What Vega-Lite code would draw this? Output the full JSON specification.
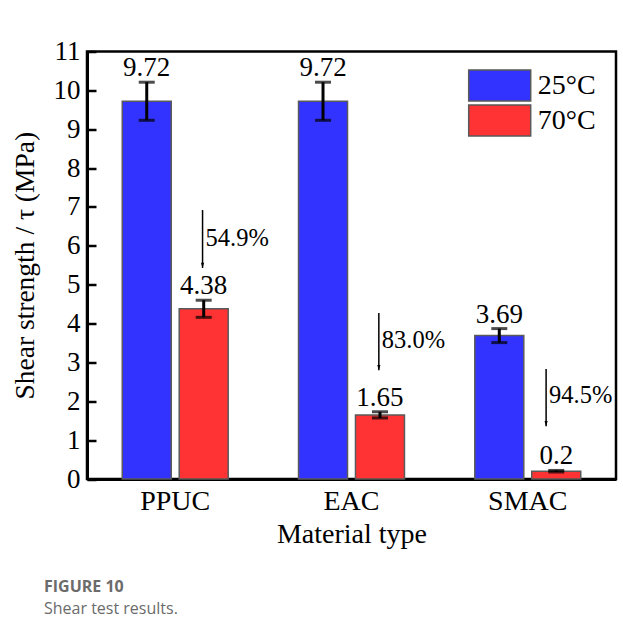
{
  "$schema": "https://vega.github.io/schema/vega-lite/v6.json",
  "autosize": {"type": "none"},
  "padding": {"left": 87, "top": 51.5, "right": 7, "bottom": 163},
  "width": 529,
  "height": 427.5,
  "background": "white",
  "config": {
    "view": {"stroke": "black", "strokeWidth": 2.5},
    "font": "Liberation Serif",
    "axisY": {
      "labelOverlap": false, "labelBound": false,
      "grid": false, "domainWidth": 3, "domainColor": "black",
      "tickColor": "black", "tickWidth": 2.5, "tickSize": -9,
      "labelFont": "Liberation Serif", "labelFontSize": 27, "labelColor": "black", "labelPadding": 16,
      "titleFont": "Liberation Serif", "titleFontSize": 27.5, "titleFontWeight": "normal", "titleColor": "black", "titlePadding": 14
    }
  },
  "title": {
    "text": "FIGURE 10",
    "subtitle": "Shear test results.",
    "orient": "bottom",
    "anchor": "start",
    "frame": "group",
    "dx": -43,
    "offset": 31,
    "font": "Open Sans",
    "fontSize": 16,
    "fontWeight": "bold",
    "color": "#6b6b6b",
    "subtitleFont": "Open Sans",
    "subtitleFontSize": 16,
    "subtitleColor": "#6b6b6b",
    "subtitlePadding": 6
  },
  "datasets": {
    "bars": [
      {"material": "PPUC", "temp": "25°C", "value": 9.72, "lo": 9.23, "hi": 10.21, "label": "9.72"},
      {"material": "PPUC", "temp": "70°C", "value": 4.38, "lo": 4.16, "hi": 4.60, "label": "4.38"},
      {"material": "EAC", "temp": "25°C", "value": 9.72, "lo": 9.23, "hi": 10.21, "label": "9.72"},
      {"material": "EAC", "temp": "70°C", "value": 1.65, "lo": 1.57, "hi": 1.73, "label": "1.65"},
      {"material": "SMAC", "temp": "25°C", "value": 3.69, "lo": 3.51, "hi": 3.87, "label": "3.69"},
      {"material": "SMAC", "temp": "70°C", "value": 0.2, "lo": 0.18, "hi": 0.22, "label": "0.2"}
    ],
    "arrows": [
      {"material": "PPUC", "top": 6.92, "tip": 5.43, "mid": 6.18, "pct": "54.9%"},
      {"material": "EAC", "top": 4.27, "tip": 2.80, "mid": 3.54, "pct": "83.0%"},
      {"material": "SMAC", "top": 2.83, "tip": 1.36, "mid": 2.13, "pct": "94.5%"}
    ]
  },
  "encoding": {
    "x": {"field": "material", "type": "nominal", "sort": ["PPUC", "EAC", "SMAC"]}
  },
  "layer": [
    {
      "data": {"name": "bars"},
      "mark": {"type": "bar", "stroke": "#5a5a5a", "strokeWidth": 1.5},
      "encoding": {
        "x": {
          "field": "material", "type": "nominal", "sort": ["PPUC", "EAC", "SMAC"],
          "scale": {"paddingInner": 0.399, "paddingOuter": 0.2},
          "axis": {
            "title": "Material type", "ticks": false, "domainWidth": 3, "domainColor": "black",
            "labelFont": "Liberation Serif", "labelFontSize": 28, "labelColor": "black", "labelPadding": 8,
            "labelAngle": 0,
            "titleFont": "Liberation Serif", "titleFontSize": 28, "titleFontWeight": "normal", "titleColor": "black", "titlePadding": 5
          }
        },
        "xOffset": {"field": "temp", "type": "nominal", "scale": {"paddingInner": 0.14, "paddingOuter": 0}},
        "y": {
          "field": "value", "type": "quantitative", "title": "Shear strength / τ (MPa)",
          "scale": {"domain": [0, 11], "nice": false},
          "axis": {"values": [0,1,2,3,4,5,6,7,8,9,10,11], "tickCount": 12, "labelOverlap": false}
        },
        "color": {
          "field": "temp", "type": "nominal",
          "scale": {"domain": ["25°C", "70°C"], "range": ["#3333ff", "#ff3333"]},
          "legend": {
            "title": null, "orient": "none", "legendX": 380.7, "legendY": 17.5, "padding": 0,
            "symbolType": "M-1,-1H3V1H-1Z", "symbolSize": 961,
            "symbolStrokeColor": "#5a5a5a", "symbolStrokeWidth": 1.5, "symbolOpacity": 1,
            "labelFont": "Liberation Serif", "labelFontSize": 28, "labelColor": "black",
            "labelOffset": 37, "rowPadding": -3, "labelLimit": 200
          }
        }
      }
    },
    {
      "data": {"name": "bars"},
      "mark": {"type": "rule", "color": "black", "strokeWidth": 3},
      "encoding": {
        "xOffset": {"field": "temp", "type": "nominal"},
        "y": {"field": "lo", "type": "quantitative"},
        "y2": {"field": "hi"}
      }
    },
    {
      "data": {"name": "bars"},
      "mark": {"type": "tick", "color": "black", "thickness": 3, "size": 16},
      "encoding": {
        "xOffset": {"field": "temp", "type": "nominal"},
        "y": {"field": "lo", "type": "quantitative"}
      }
    },
    {
      "data": {"name": "bars"},
      "mark": {"type": "tick", "color": "black", "thickness": 3, "size": 16},
      "encoding": {
        "xOffset": {"field": "temp", "type": "nominal"},
        "y": {"field": "hi", "type": "quantitative"}
      }
    },
    {
      "data": {"name": "bars"},
      "mark": {"type": "text", "font": "Liberation Serif", "fontSize": 27, "color": "black", "baseline": "alphabetic", "dy": -6},
      "encoding": {
        "xOffset": {"field": "temp", "type": "nominal"},
        "y": {"field": "hi", "type": "quantitative"},
        "text": {"field": "label"}
      }
    },
    {
      "data": {"name": "arrows"},
      "transform": [{"filter": "datum.material !== 'SMAC'"}],
      "mark": {"type": "rule", "color": "black", "strokeWidth": 1.5},
      "encoding": {
        "x": {"field": "material", "type": "nominal", "sort": ["PPUC", "EAC", "SMAC"], "bandPosition": 0.758},
        "y": {"field": "top", "type": "quantitative"},
        "y2": {"field": "tip"}
      }
    },
    {
      "data": {"name": "arrows"},
      "transform": [{"filter": "datum.material !== 'SMAC'"}],
      "mark": {"type": "point", "shape": "M-0.3,-1L0.3,-1L0,0Z", "size": 110, "filled": true, "color": "black", "opacity": 1},
      "encoding": {
        "x": {"field": "material", "type": "nominal", "sort": ["PPUC", "EAC", "SMAC"], "bandPosition": 0.758},
        "y": {"field": "tip", "type": "quantitative"}
      }
    },
    {
      "data": {"name": "arrows"},
      "transform": [{"filter": "datum.material !== 'SMAC'"}],
      "mark": {"type": "text", "font": "Liberation Serif", "fontSize": 24.5, "color": "black", "align": "left", "baseline": "middle", "dx": 3},
      "encoding": {
        "x": {"field": "material", "type": "nominal", "sort": ["PPUC", "EAC", "SMAC"], "bandPosition": 0.758},
        "y": {"field": "mid", "type": "quantitative"},
        "text": {"field": "pct"}
      }
    },
    {
      "data": {"name": "arrows"},
      "transform": [{"filter": "datum.material === 'SMAC'"}],
      "mark": {"type": "rule", "color": "black", "strokeWidth": 1.5, "xOffset": -9},
      "encoding": {
        "x": {"field": "material", "type": "nominal", "sort": ["PPUC", "EAC", "SMAC"], "bandPosition": 0.758},
        "y": {"field": "top", "type": "quantitative"},
        "y2": {"field": "tip"}
      }
    },
    {
      "data": {"name": "arrows"},
      "transform": [{"filter": "datum.material === 'SMAC'"}],
      "mark": {"type": "point", "shape": "M-0.3,-1L0.3,-1L0,0Z", "size": 110, "filled": true, "color": "black", "opacity": 1, "xOffset": -9},
      "encoding": {
        "x": {"field": "material", "type": "nominal", "sort": ["PPUC", "EAC", "SMAC"], "bandPosition": 0.758},
        "y": {"field": "tip", "type": "quantitative"}
      }
    },
    {
      "data": {"name": "arrows"},
      "transform": [{"filter": "datum.material === 'SMAC'"}],
      "mark": {"type": "text", "font": "Liberation Serif", "fontSize": 24.5, "color": "black", "align": "left", "baseline": "middle", "dx": 3, "xOffset": -9},
      "encoding": {
        "x": {"field": "material", "type": "nominal", "sort": ["PPUC", "EAC", "SMAC"], "bandPosition": 0.758},
        "y": {"field": "mid", "type": "quantitative"},
        "text": {"field": "pct"}
      }
    }
  ]
}
